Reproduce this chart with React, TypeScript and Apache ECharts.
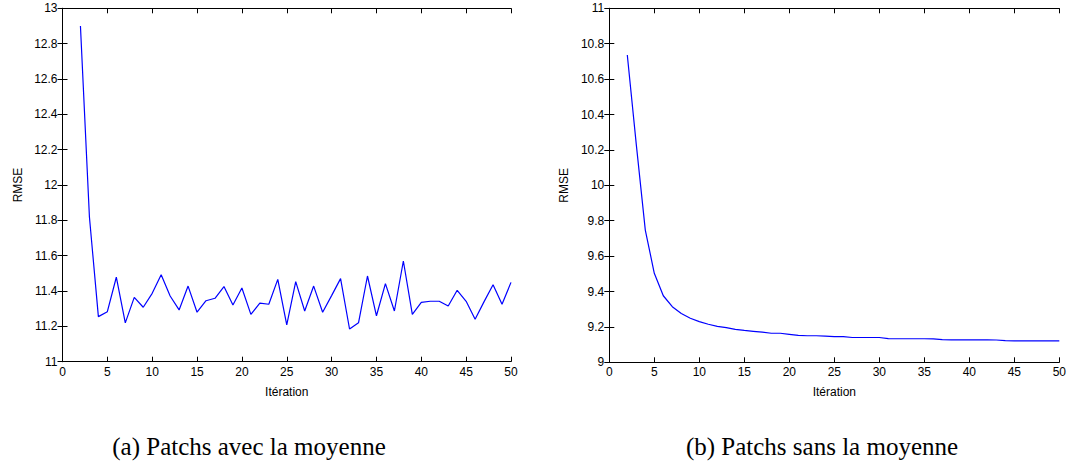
import React, { useEffect, useRef } from "react";
import * as echarts from "echarts";

const iterations = Array.from({ length: 49 }, (_, k) => k + 2);

const rmseWithMean = [
  12.9, 11.82, 11.255, 11.283, 11.478, 11.22, 11.364, 11.308, 11.387, 11.492,
  11.372, 11.293, 11.428, 11.28, 11.345, 11.359, 11.425, 11.321, 11.417, 11.268,
  11.331, 11.325, 11.466, 11.208, 11.453, 11.287, 11.428, 11.28, 11.374, 11.47,
  11.185, 11.22, 11.485, 11.26, 11.442, 11.287, 11.57, 11.268, 11.336, 11.342,
  11.342, 11.315, 11.404, 11.342, 11.24, 11.34, 11.436, 11.325, 11.449,
];

const rmseWithoutMean = [
  10.736, 10.23, 9.747, 9.503, 9.376, 9.314, 9.276, 9.249, 9.23, 9.215,
  9.203, 9.196, 9.186, 9.18, 9.175, 9.17, 9.164, 9.164, 9.158, 9.152,
  9.15, 9.15, 9.148, 9.145, 9.145, 9.14, 9.14, 9.14, 9.14, 9.134,
  9.133, 9.133, 9.133, 9.133, 9.132, 9.128, 9.127, 9.127, 9.127, 9.127,
  9.127, 9.126, 9.122, 9.121, 9.121, 9.121, 9.121, 9.121, 9.121,
];

const xTicks = { min: 0, max: 50, interval: 5 };
const yLeft = { min: 11, max: 13, interval: 0.2 };
const yRight = { min: 9, max: 11, interval: 0.2 };

const captions = ["(a) Patchs avec la moyenne", "(b) Patchs sans la moyenne"];
const xName = "Itération";
const yName = "RMSE";

const sansFont = "Liberation Sans, Arial, sans-serif";

function makeAxes(gridIndex: number, yr: { min: number; max: number; interval: number }) {
  const axisLine = { show: true, lineStyle: { color: "#000", width: 1 } };
  const axisTick = { show: true, inside: true, length: 5, lineStyle: { color: "#000", width: 1 } };
  const xAxes = [
    {
      type: "value",
      gridIndex,
      position: "bottom",
      ...xTicks,
      axisLine,
      axisTick,
      splitLine: { show: false },
      axisLabel: { color: "#000", fontSize: 12, fontFamily: sansFont, margin: 4 },
      name: xName,
      nameLocation: "middle",
      nameGap: 24,
      nameTextStyle: { color: "#000", fontSize: 12, fontFamily: sansFont },
    },
    {
      type: "value",
      gridIndex,
      position: "top",
      ...xTicks,
      axisLine,
      axisTick,
      splitLine: { show: false },
      axisLabel: { show: false },
    },
  ];
  const yAxes = [
    {
      type: "value",
      gridIndex,
      position: "left",
      ...yr,
      axisLine,
      axisTick,
      splitLine: { show: false },
      axisLabel: { color: "#000", fontSize: 12, fontFamily: sansFont, margin: 5 },
      name: yName,
      nameLocation: "middle",
      nameGap: 39,
      nameRotate: 90,
      nameTextStyle: { color: "#000", fontSize: 12, fontFamily: sansFont },
    },
    {
      type: "value",
      gridIndex,
      position: "right",
      ...yr,
      axisLine,
      axisTick,
      splitLine: { show: false },
      axisLabel: { show: false },
    },
  ];
  return { xAxes, yAxes };
}

export default function App() {
  const ref = useRef<HTMLDivElement>(null);
  useEffect(() => {
    if (!ref.current) return;
    const chart = echarts.init(ref.current, null, { renderer: "svg" });
    const a = makeAxes(0, yLeft);
    const b = makeAxes(1, yRight);
    const captionFont = "25px 'Liberation Serif', 'DejaVu Serif', serif";
    chart.setOption({
      animation: false,
      backgroundColor: "#fff",
      grid: [
        { left: 62.5, top: 8.3, width: 448.5, height: 353.4 },
        { left: 609.3, top: 8.3, width: 450, height: 354 },
      ],
      xAxis: [...a.xAxes, ...b.xAxes],
      yAxis: [...a.yAxes, ...b.yAxes],
      series: [
        {
          type: "line",
          xAxisIndex: 0,
          yAxisIndex: 0,
          data: iterations.map((it, i) => [it, rmseWithMean[i]]),
          showSymbol: false,
          lineStyle: { color: "#0000ff", width: 1.2 },
        },
        {
          type: "line",
          xAxisIndex: 2,
          yAxisIndex: 2,
          data: iterations.map((it, i) => [it, rmseWithoutMean[i]]),
          showSymbol: false,
          lineStyle: { color: "#0000ff", width: 1.2 },
        },
      ],
      graphic: [
        {
          type: "text",
          x: 249,
          y: 446,
          style: {
            text: captions[0],
            fill: "#000",
            font: captionFont,
            align: "center",
            verticalAlign: "middle",
          },
        },
        {
          type: "text",
          x: 822,
          y: 446,
          style: {
            text: captions[1],
            fill: "#000",
            font: captionFont,
            align: "center",
            verticalAlign: "middle",
          },
        },
      ],
    });
    return () => chart.dispose();
  }, []);
  return (
    <div
      ref={ref}
      style={{ position: "absolute", left: 0, top: 0, width: 1070, height: 461 }}
    />
  );
}
